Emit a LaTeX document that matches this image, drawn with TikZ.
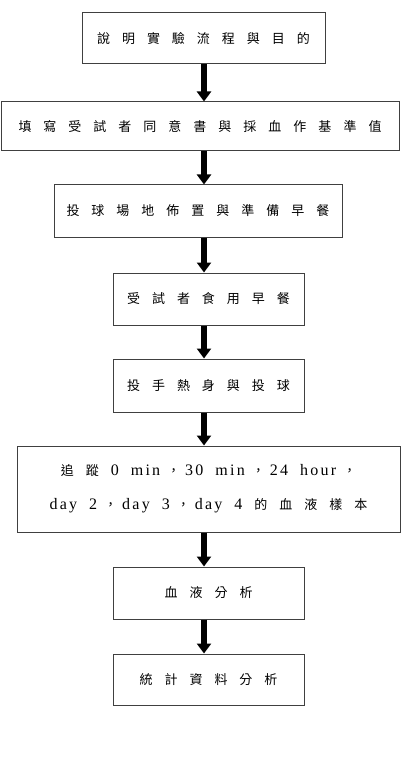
\documentclass[tikz,border=0pt]{standalone}
\usepackage{fontspec}
\setmainfont{Liberation Serif}[LetterSpace=14]
\newfontfamily\cjk{Noto Sans CJK TC}
\usepackage{tikz}
\usetikzlibrary{arrows.meta}
\newcommand{\lat}[1]{{\rmfamily\fontsize{16}{34}\selectfont #1}}
\newcommand{\cjkcomma}{\hspace{7pt}，\hspace{5pt}}

\begin{document}
\begin{tikzpicture}[x=1pt, y=-1pt,
  stepbox/.style={draw=black!75, line width=1pt, inner sep=0pt, align=center,
    font={\cjk\fontsize{13}{34}\selectfont\spaceskip=12pt plus 1pt}},
  flow/.style={line width=6pt, -{Triangle[width=14pt,length=10pt]}}]
\useasboundingbox (0,0) rectangle (407,767);
\coordinate (col) at (204,0);
\node[stepbox, minimum width=243pt, minimum height=51pt] (s1) at (203.5,38.5) {說 明 實 驗 流 程 與 目 的};
\node[stepbox, minimum width=398pt, minimum height=49pt] (s2) at (200,126.5) {填 寫 受 試 者 同 意 書 與 採 血 作 基 準 值};
\node[stepbox, minimum width=288pt, minimum height=52pt] (s3) at (198,211) {投 球 場 地 佈 置 與 準 備 早 餐};
\node[stepbox, minimum width=191pt, minimum height=52pt] (s4) at (208.5,299) {受 試 者 食 用 早 餐};
\node[stepbox, minimum width=191pt, minimum height=53pt] (s5) at (208.5,385.5) {投 手 熱 身 與 投 球};
\node[stepbox, minimum width=383pt, minimum height=86pt] (s6) at (208.5,489)
  {追 蹤 \lat{0 min}\cjkcomma\lat{30 min}\cjkcomma\lat{24 hour}\cjkcomma\\
   \lat{day 2}\cjkcomma\lat{day 3}\cjkcomma\lat{day 4} 的 血 液 樣 本};
\node[stepbox, minimum width=191pt, minimum height=52pt] (s7) at (208.5,593) {血 液 分 析};
\node[stepbox, minimum width=191pt, minimum height=51pt] (s8) at (208.5,679.5) {統 計 資 料 分 析};
% arrows down the middle
\foreach \a/\b in {s1/s2, s2/s3, s3/s4, s4/s5, s5/s6, s6/s7, s7/s8}
  \draw[flow] (\a.south -| col) -- (\b.north -| col);
\end{tikzpicture}
\end{document}
